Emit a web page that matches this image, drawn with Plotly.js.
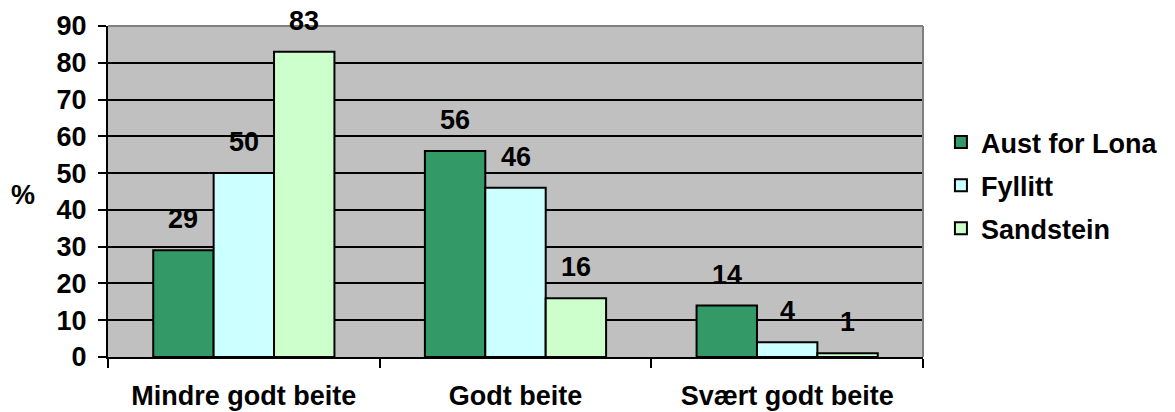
<!DOCTYPE html>
<html>
<head>
<meta charset="utf-8">
<script src="https://cdn.plot.ly/plotly-3.0.1.min.js"></script>
<style>
  html, body { margin: 0; padding: 0; background: #fff; }
  #chart { width: 1175px; height: 412px; }
</style>
</head>
<body>
<div id="chart"></div>
<script>
const categories = ["Mindre godt beite", "Godt beite", "Svært godt beite"];
const seriesNames = ["Aust for Lona", "Fyllitt", "Sandstein"];
const austForLona = [29, 56, 14];
const fyllitt = [50, 46, 4];
const sandstein = [83, 16, 1];
const seriesValues = [austForLona, fyllitt, sandstein];
const seriesColors = ["#339966", "#CCFFFF", "#CCFFCC"];
const yTicks = [0, 10, 20, 30, 40, 50, 60, 70, 80, 90];

const FONT = "Liberation Sans, Arial, sans-serif";
const FS = 27;
const BARGAP = 0.333;
const barW = (1 - BARGAP) / seriesValues.length;
const boldFont = { family: FONT, size: FS, color: "#000", weight: "bold" };

const traces = seriesValues.map((vals, i) => ({
  type: "bar",
  name: seriesNames[i],
  legendgroup: "g" + i,
  x: categories,
  y: vals,
  marker: { color: seriesColors[i], line: { color: "#000", width: 2 } },
  hoverinfo: "skip"
}));

const annotations = [];
seriesValues.forEach((vals, i) => {
  const off = (i - (seriesValues.length - 1) / 2) * barW;
  vals.forEach((v, j) => {
    annotations.push({
      x: j + off, y: v, xref: "x", yref: "y",
      text: String(v), showarrow: false,
      yanchor: "middle", xanchor: "center", yshift: 31,
      font: boldFont
    });
  });
});
annotations.push({
  x: (22 - 108) / 827, y: (357 - 195) / 331, xref: "paper", yref: "paper",
  xanchor: "center", yanchor: "middle", showarrow: false,
  text: "%", font: boldFont
});

const layout = {
  width: 1175, height: 412,
  margin: { l: 108, r: 240, t: 26, b: 55, pad: 0 },
  paper_bgcolor: "#fff",
  plot_bgcolor: "#C0C0C0",
  barmode: "group",
  bargap: BARGAP,
  bargroupgap: 0,
  font: boldFont,
  showlegend: true,
  legend: {
    x: 1.022, xanchor: "left", y: 0.518, yanchor: "middle",
    font: boldFont, traceorder: "grouped", tracegroupgap: 5,
    itemwidth: 30, bgcolor: "rgba(0,0,0,0)", borderwidth: 0
  },
  xaxis: {
    type: "category",
    tickson: "boundaries",
    ticks: "outside", ticklen: 9, tickwidth: 2, tickcolor: "#000",
    showline: true, linecolor: "#000", linewidth: 2,
    showgrid: false, zeroline: false,
    ticklabelstandoff: 14,
    tickfont: boldFont,
    fixedrange: true
  },
  yaxis: {
    range: [0, 90],
    tickvals: yTicks,
    ticktext: yTicks.map(String),
    ticks: "outside", ticklen: 8, tickwidth: 2, tickcolor: "#000",
    showline: true, linecolor: "#000", linewidth: 2,
    showgrid: true, gridcolor: "#000", gridwidth: 2,
    zeroline: false,
    ticklabelstandoff: 6,
    tickfont: boldFont,
    fixedrange: true
  },
  shapes: [
    { type: "line", xref: "paper", yref: "paper", x0: 0, x1: 1, y0: 1, y1: 1,
      line: { color: "#808080", width: 2 }, layer: "above" },
    { type: "line", xref: "paper", yref: "paper", x0: 1, x1: 1, y0: 0, y1: 1,
      line: { color: "#808080", width: 2 }, layer: "above" }
  ],
  annotations: annotations
};

Plotly.newPlot("chart", traces, layout, { displayModeBar: false, staticPlot: true });
</script>
</body>
</html>
